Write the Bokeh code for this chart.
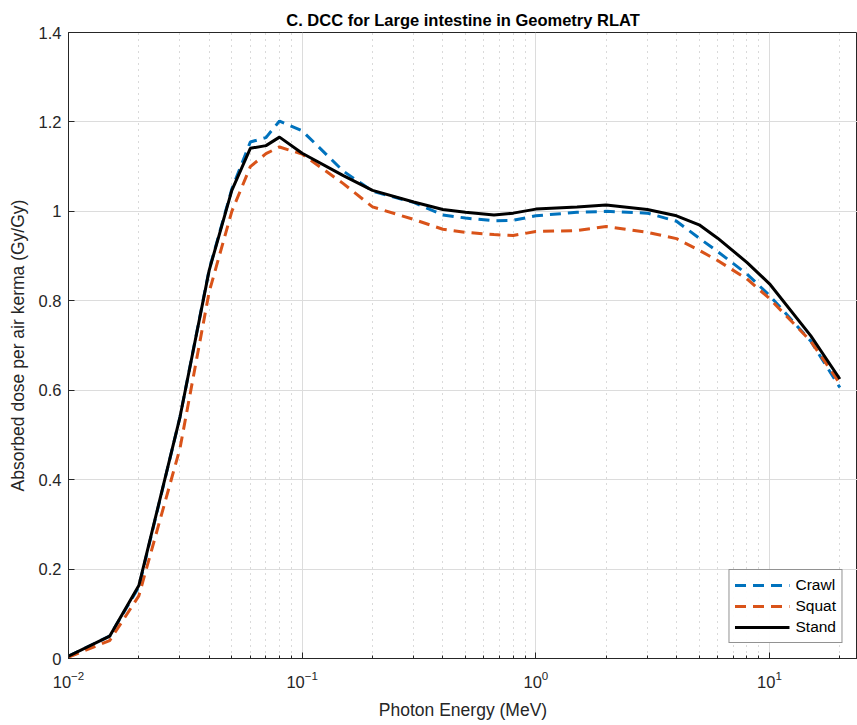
from bokeh.plotting import figure
from bokeh.models import Range1d, Legend, LegendItem, FixedTicker
from bokeh.embed import file_html
from bokeh.resources import INLINE

energy = [0.01, 0.015, 0.02, 0.03, 0.04, 0.05, 0.06, 0.07, 0.08, 0.1, 0.15, 0.2, 0.3, 0.4,
          0.5, 0.662, 0.8, 1.0, 1.5, 2.0, 3.0, 4.0, 5.0, 6.0, 8.0, 10.0, 15.0, 20.0]
crawl = [0.005, 0.05, 0.16, 0.54, 0.87, 1.05, 1.155, 1.165, 1.202, 1.18, 1.09, 1.045, 1.02, 0.992,
         0.985, 0.979, 0.98, 0.99, 0.998, 1.0, 0.996, 0.978, 0.94, 0.91, 0.86, 0.812, 0.71, 0.606]
squat = [0.003, 0.04, 0.14, 0.47, 0.82, 1.0, 1.10, 1.129, 1.144, 1.128, 1.062, 1.01, 0.982, 0.96,
         0.953, 0.948, 0.946, 0.955, 0.957, 0.966, 0.953, 0.939, 0.913, 0.89, 0.849, 0.805, 0.71, 0.615]
stand = [0.005, 0.05, 0.163, 0.54, 0.868, 1.047, 1.141, 1.147, 1.166, 1.13, 1.08, 1.047, 1.021, 1.004,
         0.998, 0.992, 0.996, 1.005, 1.01, 1.014, 1.004, 0.99, 0.97, 0.94, 0.886, 0.838, 0.722, 0.625]

y_ticks = [0, 0.2, 0.4, 0.6, 0.8, 1.0, 1.2, 1.4]

FONT = "Liberation Sans"
AX = "#262626"

p = figure(output_backend="svg", toolbar_location=None, x_axis_type="log",
           x_range=Range1d(0.01, 23.8), y_range=Range1d(0, 1.4),
           frame_width=789, frame_height=626,
           min_border_left=68, min_border_right=0, min_border_top=32, min_border_bottom=10,
           title="C. DCC for Large intestine in Geometry RLAT")
p.title.align = "center"
p.title.text_font = FONT
p.title.text_font_size = "16.5px"
p.title.text_font_style = "bold"
p.title.text_color = "#000000"
p.title.offset = 0
p.title.standoff = 8
p.outline_line_color = AX
p.outline_line_width = 1
p.background_fill_color = "white"
p.border_fill_color = "white"

xa = p.xaxis[0]
ya = p.yaxis[0]
ya.ticker = FixedTicker(ticks=y_ticks)
ya.formatter.use_scientific = False
for ax in (xa, ya):
    ax.axis_line_color = AX
    ax.major_tick_line_color = AX
    ax.minor_tick_line_color = AX
    ax.major_tick_in = 6
    ax.major_tick_out = 0
    ax.minor_tick_in = 3
    ax.minor_tick_out = 0
    ax.major_label_text_font = FONT
    ax.major_label_text_font_size = "16.5px"
    ax.major_label_text_color = AX
    ax.axis_label_text_font = FONT
    ax.axis_label_text_font_size = "17.5px"
    ax.axis_label_text_font_style = "normal"
    ax.axis_label_text_color = AX
ya.minor_tick_line_color = None
xa.axis_label = "Photon Energy (MeV)"
ya.axis_label = "Absorbed dose per air kerma (Gy/Gy)"
xa.major_label_standoff = 12
xa.axis_label_standoff = 9
ya.major_label_standoff = 7
ya.axis_label_standoff = 8

p.xgrid.grid_line_color = "#dcdcdc"
p.ygrid.grid_line_color = "#dcdcdc"
p.ygrid.ticker = FixedTicker(ticks=y_ticks)
p.xgrid.minor_grid_line_color = "#b4b4b4"
p.xgrid.minor_grid_line_dash = "1 5"

r1 = p.line(energy, crawl, line_color="#0072BD", line_width=3, line_dash="11 7")
r2 = p.line(energy, squat, line_color="#D95319", line_width=3, line_dash="11 7")
r3 = p.line(energy, stand, line_color="#000000", line_width=3)

legend = Legend(items=[LegendItem(label="Crawl", renderers=[r1]),
                       LegendItem(label="Squat", renderers=[r2]),
                       LegendItem(label="Stand", renderers=[r3])],
                location="bottom_right")
legend.border_line_color = AX
legend.border_line_width = 1
legend.label_text_font = FONT
legend.label_text_font_size = "15.5px"
legend.label_text_color = "#000000"
legend.glyph_width = 55
legend.spacing = 1
legend.padding = 5
legend.margin = 15
legend.label_height = 19
legend.label_standoff = 6
p.add_layout(legend)

open("out.html", "w").write(file_html(p, INLINE))
